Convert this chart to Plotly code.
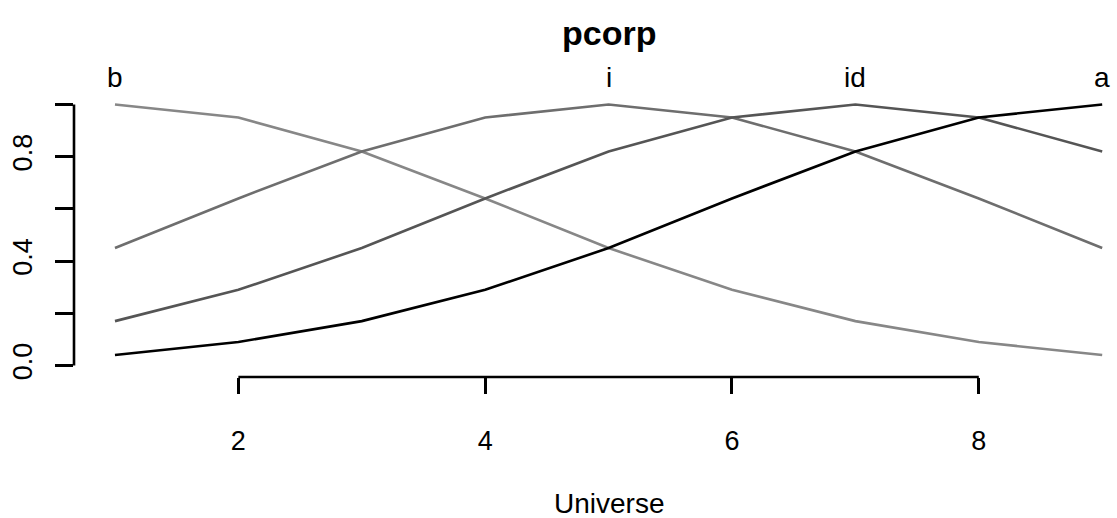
import plotly.graph_objects as go

# Universe and fuzzy membership grades of the four sets
universe = [1, 2, 3, 4, 5, 6, 7, 8, 9]
set_names = ["b", "i", "id", "a"]
grade_b = [1.00, 0.95, 0.82, 0.64, 0.45, 0.29, 0.17, 0.09, 0.04]
grade_i = [0.45, 0.64, 0.82, 0.95, 1.00, 0.95, 0.82, 0.64, 0.45]
grade_id = [0.17, 0.29, 0.45, 0.64, 0.82, 0.95, 1.00, 0.95, 0.82]
grade_a = [0.04, 0.09, 0.17, 0.29, 0.45, 0.64, 0.82, 0.95, 1.00]
set_centers = [1, 5, 7, 9]
line_colors = ["#878787", "#6e6e6e", "#555555", "#000000"]

x_ticks = [2, 4, 6, 8]
y_ticks = [0.0, 0.2, 0.4, 0.6, 0.8, 1.0]
y_ticktext = ["0.0", "", "0.4", "", "0.8", ""]

FONT = "Liberation Sans, Arial, Helvetica, sans-serif"

fig = go.Figure()
for name, grades, color in zip(set_names, [grade_b, grade_i, grade_id, grade_a], line_colors):
    fig.add_trace(go.Scatter(
        x=universe, y=grades, mode="lines", name=name,
        line=dict(color=color, width=2.6), cliponaxis=False,
    ))

# set labels above each peak
for name, c in zip(set_names, set_centers):
    fig.add_annotation(x=c, y=1.0, xref="x", yref="y", text=name, showarrow=False,
                       yanchor="bottom", yshift=9, font=dict(size=28, color="black", family=FONT))

# R-style axis lines that span only the tick range
fig.add_shape(type="line", xref="x", yref="paper", x0=x_ticks[0], x1=x_ticks[-1], y0=0, y1=0,
              line=dict(color="black", width=2.6))
fig.add_shape(type="line", xref="paper", yref="y", x0=0, x1=0, y0=y_ticks[0], y1=y_ticks[-1],
              line=dict(color="black", width=2.6))

# main title and x axis title
fig.add_annotation(x=5, y=1, xref="x", yref="paper", text="<b>pcorp</b>", showarrow=False,
                   yanchor="middle", yshift=61, font=dict(size=34, color="black", family=FONT))
fig.add_annotation(x=5, y=0, xref="x", yref="paper", text="Universe", showarrow=False,
                   yanchor="middle", yshift=-126, font=dict(size=28, color="black", family=FONT))

fig.update_layout(
    width=1117, height=518,
    margin=dict(l=74, r=0, t=93.5, b=141, pad=0),
    plot_bgcolor="white", paper_bgcolor="white",
    showlegend=False,
    font=dict(family=FONT, size=27, color="black"),
    xaxis=dict(range=[0.668, 9.12], showgrid=False, zeroline=False, showline=False,
               tickmode="array", tickvals=x_ticks, ticks="outside", ticklen=16,
               tickwidth=2.6, tickcolor="black", ticklabelstandoff=24,
               tickfont=dict(size=27, family=FONT, color="black")),
    yaxis=dict(range=[-0.044, 1.04], showgrid=False, zeroline=False, showline=False,
               tickmode="array", tickvals=y_ticks, ticktext=y_ticktext,
               ticks="outside", ticklen=18, tickwidth=2.6, tickcolor="black",
               tickangle=-90, ticklabelstandoff=12,
               tickfont=dict(size=27, family=FONT, color="black")),
)

fig.write_html("out.html")
